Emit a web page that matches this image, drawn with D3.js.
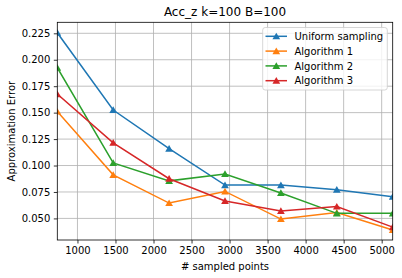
<!DOCTYPE html>
<html><head><meta charset="utf-8">
<script src="https://cdn.jsdelivr.net/npm/d3@7"></script>
<style>body{margin:0;background:#fff}svg{display:block;font-family:"DejaVu Sans",sans-serif}</style>
</head><body><svg id="c" width="402" height="278"></svg>
<script>
const xs = [735, 1470, 2205, 2940, 3675, 4410, 5145];
const uniform = [0.2255, 0.1525, 0.116, 0.0815, 0.0815, 0.0772, 0.0705];
const alg1 = [0.151, 0.0912, 0.0645, 0.0755, 0.0494, 0.0555, 0.039];
const alg2 = [0.1925, 0.1025, 0.0855, 0.092, 0.074, 0.0548, 0.0548];
const alg3 = [0.1675, 0.1215, 0.0875, 0.0665, 0.057, 0.0612, 0.0418];
const seriesNames = ["Uniform sampling", "Algorithm 1", "Algorithm 2", "Algorithm 3"];
const colors = ["#1f77b4", "#ff7f0e", "#2ca02c", "#d62728"];
const xTicks = [1000, 1500, 2000, 2500, 3000, 3500, 4000, 4500, 5000];
const yTicks = [0.050, 0.075, 0.100, 0.125, 0.150, 0.175, 0.200, 0.225];
const title = "Acc_z k=100 B=100";

const series = [uniform, alg1, alg2, alg3];
const svg = d3.select("#c");
const L = 57.3, R = 392.7, T = 22.3, B = 240;
const x = d3.scaleLinear().domain([735, 5145]).range([L, R]);
const y = d3.scaleLinear().domain([0.0296, 0.2354]).range([B, T]);

// grid
svg.append("g").selectAll("line").data(xTicks).join("line")
  .attr("x1", d => x(d)).attr("x2", d => x(d)).attr("y1", T).attr("y2", B)
  .attr("stroke", "#b0b0b0").attr("stroke-width", 0.8);
svg.append("g").selectAll("line").data(yTicks).join("line")
  .attr("x1", L).attr("x2", R).attr("y1", d => y(d)).attr("y2", d => y(d))
  .attr("stroke", "#b0b0b0").attr("stroke-width", 0.8);

// axes
const xa = svg.append("g").attr("transform", `translate(0,${B})`)
  .call(d3.axisBottom(x).tickValues(xTicks).tickFormat(d3.format("d")).tickSize(3.5).tickPadding(3.5));
const ya = svg.append("g").attr("transform", `translate(${L},0)`)
  .call(d3.axisLeft(y).tickValues(yTicks).tickFormat(d3.format(".3f")).tickSize(3.5).tickPadding(3.5));
[xa, ya].forEach(a => {
  a.select(".domain").remove();
  a.selectAll("text").attr("font-size", 10).attr("font-family", "DejaVu Sans").attr("fill", "#000");
  a.selectAll("line").attr("stroke", "#000").attr("stroke-width", 0.8);
});

// lines
const line = d3.line().x((d, i) => x(xs[i])).y(d => y(d));
const clip = svg.append("clipPath").attr("id", "clip").append("rect")
  .attr("x", L).attr("y", T).attr("width", R - L).attr("height", B - T);
const tri = d3.symbol().type(d3.symbolTriangle).size(26);
series.forEach((s, k) => {
  svg.append("path").attr("d", line(s)).attr("fill", "none")
    .attr("stroke", colors[k]).attr("stroke-width", 1.5).attr("clip-path", "url(#clip)");
  svg.append("g").attr("clip-path", "url(#clip)").selectAll("path").data(s).join("path")
    .attr("d", tri).attr("transform", (d, i) => `translate(${x(xs[i])},${y(d) + 0.8})`)
    .attr("fill", colors[k]);
});

// frame
svg.append("rect").attr("x", L).attr("y", T).attr("width", R - L).attr("height", B - T)
  .attr("fill", "none").attr("stroke", "#000").attr("stroke-width", 0.8);

// title & labels
svg.append("text").attr("x", (L + R) / 2).attr("y", T - 6).attr("text-anchor", "middle")
  .attr("font-size", 12).text(title);
svg.append("text").attr("x", (L + R) / 2).attr("y", 270).attr("text-anchor", "middle")
  .attr("font-size", 10).text("# sampled points");
svg.append("text").attr("transform", `translate(15,${(T + B) / 2}) rotate(-90)`)
  .attr("text-anchor", "middle").attr("font-size", 10).text("Approximation Error");

// legend
const lg = svg.append("g");
lg.append("rect").attr("x", 262.7).attr("y", 27.5).attr("width", 124.6).attr("height", 62.5)
  .attr("rx", 2.5).attr("fill", "#fff").attr("fill-opacity", 0.8).attr("stroke", "#cccccc").attr("stroke-width", 0.8);
seriesNames.forEach((n, k) => {
  const yy = 36.3 + k * 14.8;
  lg.append("line").attr("x1", 265.5).attr("x2", 287).attr("y1", yy).attr("y2", yy)
    .attr("stroke", colors[k]).attr("stroke-width", 1.5);
  lg.append("path").attr("d", tri).attr("transform", `translate(276.3,${yy + 0.8})`).attr("fill", colors[k]);
  lg.append("text").attr("x", 294.5).attr("y", yy + 3.6).attr("font-size", 10).text(n);
});
</script></body></html>
